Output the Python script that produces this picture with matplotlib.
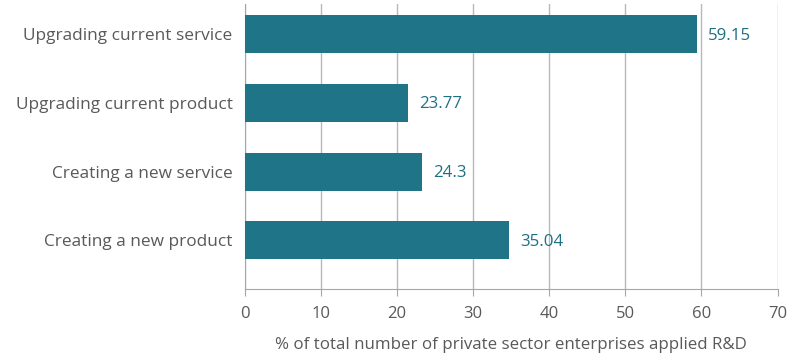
import matplotlib.pyplot as plt

categories = ["Upgrading current service", "Upgrading current product",
              "Creating a new service", "Creating a new product"]
bar_values = [59.4, 21.4, 23.3, 34.7]
value_labels = ["59.15", "23.77", "24.3", "35.04"]
xticks = [0, 10, 20, 30, 40, 50, 60, 70]

plt.rcParams['font.family'] = ['Open Sans', 'DejaVu Sans']

fig = plt.figure(figsize=(8.02, 3.6), dpi=100)
ax = fig.add_axes([0.3055, 0.1972, 0.664, 0.7917])

ypos = list(range(len(categories)))
ax.barh(ypos, bar_values, height=0.553, color='#1F7488', zorder=3)

for y, v, lab in zip(ypos, bar_values, value_labels):
    ax.annotate(lab, (v, y), xytext=(8, -1), textcoords='offset points',
                va='center', ha='left', fontsize=12.2, color='#1F6F85')

ax.set_ylim(3.71, -0.44)
ax.set_xlim(0, 70)
ax.set_xticks(xticks)
ax.set_yticks(ypos)
ax.set_yticklabels(categories, fontsize=12.4, color='#595959')
ax.tick_params(axis='y', length=0, pad=9)
ax.tick_params(axis='x', length=5, color='#a6a6a6', labelcolor='#595959',
               labelsize=12, pad=7)

ax.grid(axis='x', color='#b8b8b8', linewidth=1, zorder=0)
for s in ['top', 'right']:
    ax.spines[s].set_visible(False)
ax.spines['left'].set_color('#a6a6a6')
ax.spines['bottom'].set_color('#a6a6a6')

ax.set_xlabel("% of total number of private sector enterprises applied R&D",
              fontsize=12.2, color='#595959', labelpad=11)

fig.savefig('out.png', dpi=100)
